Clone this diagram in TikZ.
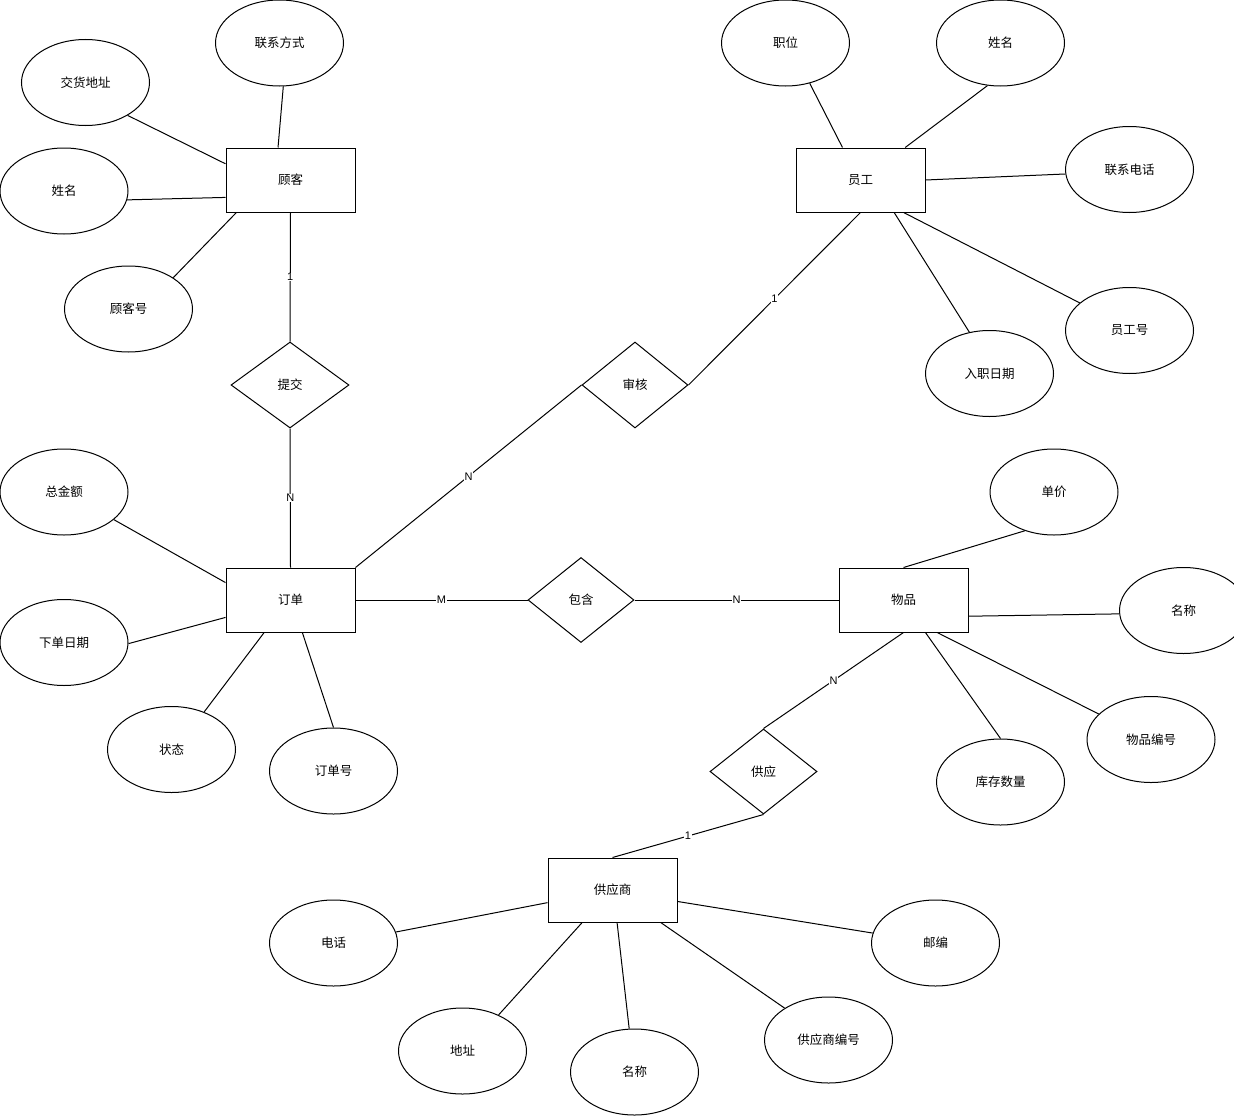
\documentclass[tikz,border=0pt]{standalone}
\usepackage{fontspec}
\setmainfont{Noto Sans CJK SC}
\newfontfamily\lat{Liberation Sans}
\usetikzlibrary{shapes.geometric}
\begin{document}
\begin{tikzpicture}[x=1pt,y=-1pt,line width=1pt,
  txt/.style={font=\fontsize{12.5}{14}\selectfont},
  ent/.style={txt,draw,rectangle,minimum width=129pt,minimum height=64pt,inner sep=0pt},
  attr/.style={txt,draw,ellipse,minimum width=128pt,minimum height=86pt,inner sep=0pt},
  rel/.style={txt,draw,diamond,minimum height=86pt,inner sep=0pt},
  lbl/.style={fill=white,inner sep=0.5pt,font=\lat\fontsize{11}{12}\selectfont}]
\useasboundingbox (0,0) rectangle (1234,1116);
% entities
\node[ent] (c) at (290.5,180) {顾客};
\node[ent] (e) at (860.5,180) {员工};
\node[ent] (o) at (290.5,600) {订单};
\node[ent] (p) at (903.5,600) {物品};
\node[ent] (s) at (612.5,890) {供应商};
% relationships
\node[rel,minimum width=118pt] (r1) at (290,385) {提交};
\node[rel,minimum width=106pt] (r2) at (635,385) {审核};
\node[rel,minimum width=106pt,minimum height=85pt] (r3) at (581,600) {包含};
\node[rel,minimum width=107pt,minimum height=85pt] (r4) at (763.5,771.5) {供应};
% customer attributes
\node[attr] (c1) at (279.5,43) {联系方式};
\node[attr] (c2) at (85.5,82.5) {交货地址};
\node[attr] (c3) at (64,191) {姓名};
\node[attr] (c4) at (128.5,309) {顾客号};
% employee attributes
\node[attr] (e1) at (785.5,43) {职位};
\node[attr] (e2) at (1000.5,43) {姓名};
\node[attr] (e3) at (1129.5,169.5) {联系电话};
\node[attr] (e4) at (1129.5,330.5) {员工号};
\node[attr] (e5) at (989.5,373.5) {入职日期};
% order attributes
\node[attr] (o1) at (64,492) {总金额};
\node[attr] (o2) at (64,642.5) {下单日期};
\node[attr] (o3) at (171.5,749.5) {状态};
\node[attr] (o4) at (333.5,771) {订单号};
% item attributes
\node[attr] (p1) at (1054,492) {单价};
\node[attr] (p2) at (1183.5,610.5) {名称};
\node[attr] (p3) at (1151,739.5) {物品编号};
\node[attr] (p4) at (1000.5,782) {库存数量};
% supplier attributes
\node[attr] (s1) at (333.5,943) {电话};
\node[attr] (s2) at (462.5,1051) {地址};
\node[attr] (s3) at (634.5,1072) {名称};
\node[attr] (s4) at (828.5,1040) {供应商编号};
\node[attr] (s5) at (935.5,943) {邮编};
% attribute connectors
\draw (c1.275) -- (c.111);
\draw (c2.-38) -- (c.166);
\draw (c3.-8) -- (c.195);
\draw (c4.35) -- (c.211);
\draw (e1.-59) -- (e.119);
\draw (e2.253) -- (e.36);
\draw (e3.184) -- (e.0);
\draw (e4.151) -- (e.-37);
\draw (e5.116) -- (e.-44.6);
\draw (o1.-29) -- (o.165);
\draw (o2.-1) -- (o.195.6);
\draw (o3.49) -- (o.231.4);
\draw (o4.90) -- (o.-70);
\draw (p1.233) -- (p.90);
\draw (p2.183) -- (p.-14);
\draw (p3.154) -- (p.-44.6);
\draw (p4.90) -- (p.-56);
\draw (s1.10) -- (s.191);
\draw (s2.45) -- (s.227);
\draw (s3.97) -- (s.-82);
\draw (s4.144) -- (s.-34.5);
\draw (s5.171) -- (s.-10.5);
% relationship connectors
\draw (c.south) -- node[lbl]{1} (r1.north);
\draw (r1.south) -- node[lbl]{N} (o.north);
\draw (e.south) -- node[lbl]{1} (r2.east);
\draw (r2.west) -- node[lbl]{N} (o.north east);
\draw (o.east) -- node[lbl]{M} (r3.west);
\draw (r3.east) -- node[lbl]{N} (p.west);
\draw (p.south) -- node[lbl]{N} (r4.north);
\draw (r4.south) -- node[lbl]{1} (s.north);
\end{tikzpicture}
\end{document}
